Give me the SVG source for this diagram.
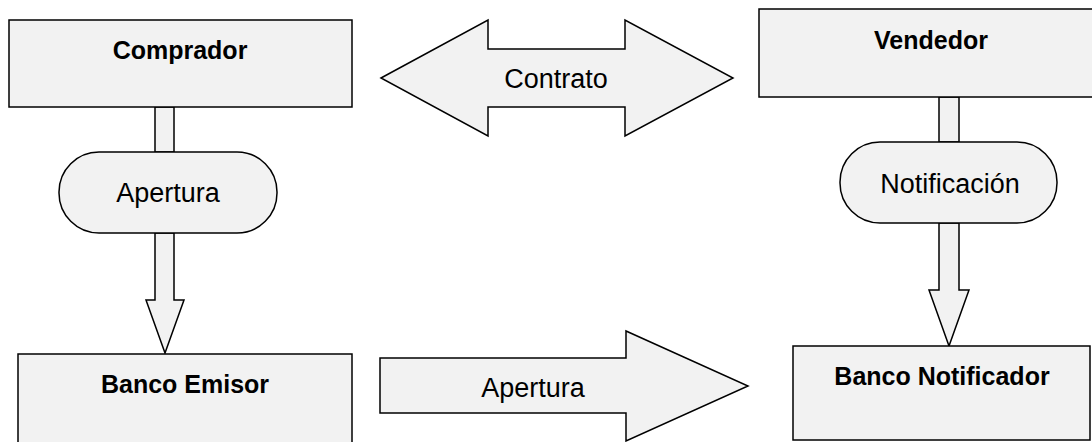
<svg xmlns="http://www.w3.org/2000/svg" width="1092" height="442" viewBox="0 0 1092 442">
<style>
.shape{fill:#f2f2f2;stroke:#000;stroke-width:1.5;stroke-linejoin:miter}
.b{font-family:"Liberation Sans",Arial,sans-serif;font-weight:bold;font-size:25px;fill:#000;text-anchor:middle}
.r{font-family:"Liberation Sans",Arial,sans-serif;font-size:27px;fill:#000;text-anchor:middle}
</style>
<rect width="1092" height="442" fill="#fff"/>
<g id="connectors">
<rect class="shape" x="155" y="107" width="19" height="45"/>
<polygon class="shape" points="155,233 174,233 174,300 184,300 165,353 146,300 155,300"/>
<rect class="shape" x="939" y="97" width="20" height="45"/>
<polygon class="shape" points="939,223 959,223 959,290 969,290 949,346 929,290 939,290"/>
<g id="contrato">
<polygon class="shape" points="381,78 488,20 488,49 625,49 625,20 733,78 625,136 625,107 488,107 488,136"/>
<text class="r" x="556" y="88">Contrato</text>
</g>
<g id="apertura-arrow">
<polygon class="shape" points="380,358 626,358 626,331 748,386 626,441 626,413 380,413"/>
<text class="r" x="533" y="397">Apertura</text>
</g>
</g>
<g id="comprador">
<rect class="shape" x="9" y="20" width="343" height="87"/>
<text class="b" x="180" y="59">Comprador</text>
</g>
<g id="vendedor">
<rect class="shape" x="759" y="9" width="345" height="88"/>
<text class="b" x="931" y="49">Vendedor</text>
</g>
<g id="apertura">
<rect class="shape" x="59" y="152" width="218" height="81" rx="40" ry="40"/>
<text class="r" x="168" y="202">Apertura</text>
</g>
<g id="notificacion">
<rect class="shape" x="840" y="142" width="217" height="81" rx="40" ry="40"/>
<text class="r" x="950" y="193">Notificación</text>
</g>
<g id="banco-emisor">
<rect class="shape" x="18" y="354" width="334" height="100"/>
<text class="b" x="185" y="393">Banco Emisor</text>
</g>
<g id="banco-notificador">
<rect class="shape" x="793" y="346" width="297" height="94"/>
<text class="b" x="942" y="385">Banco Notificador</text>
</g>
</svg>
